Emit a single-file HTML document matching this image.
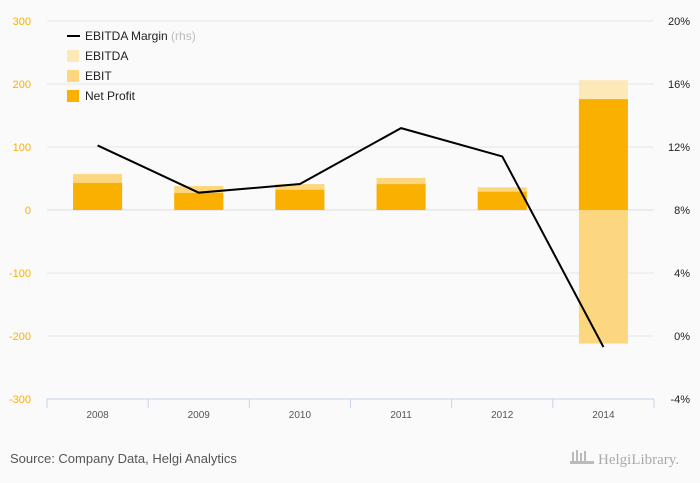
<!DOCTYPE html>
<html><head><meta charset="utf-8"><style>
body{margin:0;background:#fafafa;font-family:"Liberation Sans",sans-serif}
svg{display:block}
</style></head><body>
<svg width="700" height="483">
<rect width="700" height="483" fill="#fafafa"/>
<g id="grid"></g><g id="bars"></g><g id="line"></g><g id="axes"></g>
<g font-size="12" fill="#222">
 <line x1="67" y1="36" x2="80" y2="36" stroke="#000" stroke-width="2"/>
 <text x="85" y="40">EBITDA Margin <tspan fill="#bbb">(rhs)</tspan></text>
 <rect x="67" y="50" width="12" height="12" fill="#fde8b8"/>
 <text x="85" y="60">EBITDA</text>
 <rect x="67" y="70" width="12" height="12" fill="#fdd77f"/>
 <text x="85" y="80">EBIT</text>
 <rect x="67" y="90" width="12" height="12" fill="#f9b000"/>
 <text x="85" y="100">Net Profit</text>
</g>
<text x="10" y="463" font-size="13" fill="#555">Source: Company Data, Helgi Analytics</text>
<text x="598" y="464" font-size="15" fill="#aaa" font-family="Liberation Serif,serif">HelgiLibrary.</text>
<g fill="#bbb"><rect x="572" y="452" width="2" height="10"/><rect x="576" y="450" width="2" height="12"/><rect x="580" y="453" width="2" height="9"/><rect x="584" y="451" width="2" height="11"/><rect x="570" y="461" width="24" height="3"/></g>
</svg>
<script>
const categories=["2008","2009","2010","2011","2012","2014"];
const ebitda=[56,38,41,50,36,206];
const ebit=[57,38,41,51,36,-212];
const netProfit=[43,27,32,41,29,176];
const margin=[12.1,9.1,9.65,13.2,11.4,-0.7];
const leftTicks=[300,200,100,0,-100,-200,-300];
const rightTicks=[20,16,12,8,4,0,-4];
const NS="http://www.w3.org/2000/svg";
const x0=47,x1=654,band=(x1-x0)/categories.length;
const yL=v=>210-v*0.63;
const yR=v=>210-(v-8)*63/4;
const xc=i=>x0+band*(i+0.5);
function mk(tag,attrs,parent,text){const e=document.createElementNS(NS,tag);for(const k in attrs)e.setAttribute(k,attrs[k]);if(text!=null)e.textContent=text;document.getElementById(parent).appendChild(e);return e;}
leftTicks.forEach(t=>{
 const g=mk('line',{x1:x0,x2:x1,y1:yL(t),y2:yL(t),stroke:t===0?'#ddd':'#e6e6e6'},'grid');
 
 
 const l=mk('text',{x:31,y:yL(t)+4,'font-size':11,fill:'#f9b000','text-anchor':'end'},'axes',t);
 
 
});
rightTicks.forEach(t=>{
 const l=mk('text',{x:690,y:yR(t)+4,'font-size':11,fill:'#222','text-anchor':'end'},'axes',t+'%');
 
 
});
const ax=mk('line',{x1:x0,x2:x1,y1:399,y2:399,stroke:'#c8d4ea'},'axes');


for(let i=0;i<=categories.length;i++){const t=mk('line',{x1:x0+band*i,x2:x0+band*i,y1:399,y2:408,stroke:'#c8d4ea'},'axes');
 
 }
categories.forEach((c,i)=>{
 const l=mk('text',{x:xc(i),y:418,'font-size':10,fill:'#555','text-anchor':'middle'},'axes',c);
 
 
 const bw=49,bx=xc(i)-bw/2;
 [[ebitda,'#fde8b8','bar-ebitda'],[ebit,'#fdd77f','bar-ebit'],[netProfit,'#f9b000','bar-net-profit']].forEach(([arr,col,nm])=>{
  const v=arr[i];const r=mk('rect',{x:bx,width:bw,y:Math.min(yL(v),yL(0)),height:Math.abs(yL(v)-yL(0)),fill:col},'bars');
  
  
 });
});
const p=mk('polyline',{points:margin.map((v,i)=>xc(i)+','+yR(v)).join(' '),fill:'none',stroke:'#000','stroke-width':2},'line');


</script>
</body></html>
